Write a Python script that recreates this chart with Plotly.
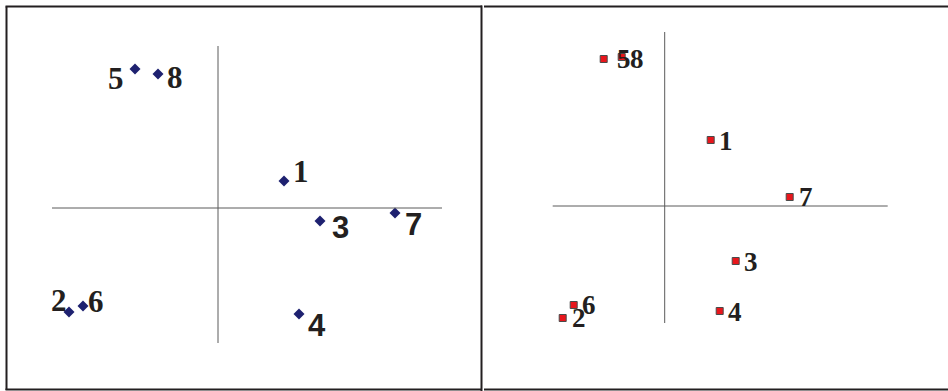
import plotly.graph_objects as go

W, H = 948, 391

# left map (blue diamonds)
left_labels = ["1", "2", "3", "4", "5", "6", "7", "8"]
left_x = [0.66, -1.49, 1.02, 0.81, -0.83, -1.35, 1.77, -0.60]
left_y = [0.27, -1.04, -0.13, -1.06, 1.39, -0.98, -0.05, 1.34]
left_axis_x = [-1.66, 2.24]
left_axis_y = [-1.35, 1.62]

# right map (red squares)
right_labels = ["1", "2", "3", "4", "5", "6", "7", "8"]
right_x = [0.46, -1.02, 0.71, 0.55, -0.61, -0.91, 1.25, -0.43]
right_y = [0.66, -1.12, -0.55, -1.05, 1.47, -0.99, 0.09, 1.49]
right_axis_x = [-1.12, 2.23]
right_axis_y = [-1.17, 1.74]

SERIF = "Liberation Serif, Times New Roman, serif"
SANS = "Liberation Sans, Arial, sans-serif"
AXIS_LINE = dict(color="#5a5a5a", width=1)
BORDER = dict(color="#231f20", width=2)

# label offsets in pixels (dx, dy down) and font per label
LEFT_LABEL_STYLE = {
    "1": (17, -10, SERIF), "2": (-10, -12, SERIF), "3": (20, 6, SANS),
    "4": (18, 11, SANS), "5": (-19, 9, SERIF), "6": (13, -5, SERIF),
    "7": (18, 11, SANS), "8": (17, 3, SERIF),
}
RIGHT_LABEL_STYLE = {
    "1": (15, 1), "2": (16, 0), "3": (15, 1), "4": (15, 1),
    "5": (20, 0), "6": (15, 0), "7": (16, 0), "8": (15, 2),
}


def px(x):
    return x / W


def py(y):
    return 1 - y / H


fig = go.Figure()

fig.add_trace(go.Scatter(
    x=left_x, y=left_y, mode="markers", xaxis="x", yaxis="y",
    marker=dict(symbol="diamond", size=8.5, color="#1e2170"),
    hoverinfo="text", text=left_labels,
))
fig.add_trace(go.Scatter(
    x=right_x, y=right_y, mode="markers", xaxis="x2", yaxis="y2",
    marker=dict(symbol="square", size=7, color="#e8161c",
                line=dict(color="#4a4a4a", width=1)),
    hoverinfo="text", text=right_labels,
))

shapes = [
    # axis cross lines
    dict(type="line", xref="x", yref="y", x0=left_axis_x[0], x1=left_axis_x[1], y0=0, y1=0, line=AXIS_LINE),
    dict(type="line", xref="x", yref="y", x0=0, x1=0, y0=left_axis_y[0], y1=left_axis_y[1], line=AXIS_LINE),
    dict(type="line", xref="x2", yref="y2", x0=right_axis_x[0], x1=right_axis_x[1], y0=0, y1=0, line=AXIS_LINE),
    dict(type="line", xref="x2", yref="y2", x0=0, x1=0, y0=right_axis_y[0], y1=right_axis_y[1], line=AXIS_LINE),
    # table cell borders
    dict(type="line", xref="paper", yref="paper", x0=px(6.5), x1=px(6.5), y0=py(6.5), y1=py(390), line=BORDER),
    dict(type="line", xref="paper", yref="paper", x0=px(5.5), x1=px(482), y0=py(6.5), y1=py(6.5), line=BORDER),
    dict(type="line", xref="paper", yref="paper", x0=px(5.5), x1=px(482), y0=py(389.5), y1=py(389.5), line=BORDER),
    dict(type="line", xref="paper", yref="paper", x0=px(481.5), x1=px(481.5), y0=py(5.5), y1=py(391), line=BORDER),
    dict(type="line", xref="paper", yref="paper", x0=px(484), x1=px(948), y0=py(6.5), y1=py(6.5), line=BORDER),
    dict(type="line", xref="paper", yref="paper", x0=px(484), x1=px(948), y0=py(389.5), y1=py(389.5), line=BORDER),
]

annotations = []
for lab, x, y in zip(left_labels, left_x, left_y):
    dx, dy, fam = LEFT_LABEL_STYLE[lab]
    annotations.append(dict(
        x=x, y=y, xref="x", yref="y", text=f"<b>{lab}</b>", showarrow=False,
        xshift=dx, yshift=-dy, xanchor="center", yanchor="middle",
        font=dict(family=fam, size=31, color="#231f20"),
    ))
for lab, x, y in zip(right_labels, right_x, right_y):
    dx, dy = RIGHT_LABEL_STYLE[lab]
    annotations.append(dict(
        x=x, y=y, xref="x2", yref="y2", text=f"<b>{lab}</b>", showarrow=False,
        xshift=dx, yshift=-dy, xanchor="center", yanchor="middle",
        font=dict(family=SERIF, size=27, color="#231f20"),
    ))

HIDDEN = dict(visible=False, showgrid=False, zeroline=False, fixedrange=True)

fig.update_layout(
    width=W, height=H,
    margin=dict(l=0, r=0, t=0, b=0),
    paper_bgcolor="white", plot_bgcolor="white",
    showlegend=False,
    xaxis=dict(domain=[px(6), px(481)], range=[-2.12, 2.63], **HIDDEN),
    yaxis=dict(domain=[0, 1], range=[-1.83, 2.08], **HIDDEN),
    xaxis2=dict(domain=[px(483), 1], range=[-1.817, 2.833], **HIDDEN),
    yaxis2=dict(domain=[0, 1], range=[-1.85, 2.06], anchor="x2", **HIDDEN),
    shapes=shapes,
    annotations=annotations,
)

# drop the browser's default page margin so the figure sits at the window corner
fig.write_html(
    "out.html",
    config={"displayModeBar": False},
    post_script="document.body.style.margin='0';",
)
